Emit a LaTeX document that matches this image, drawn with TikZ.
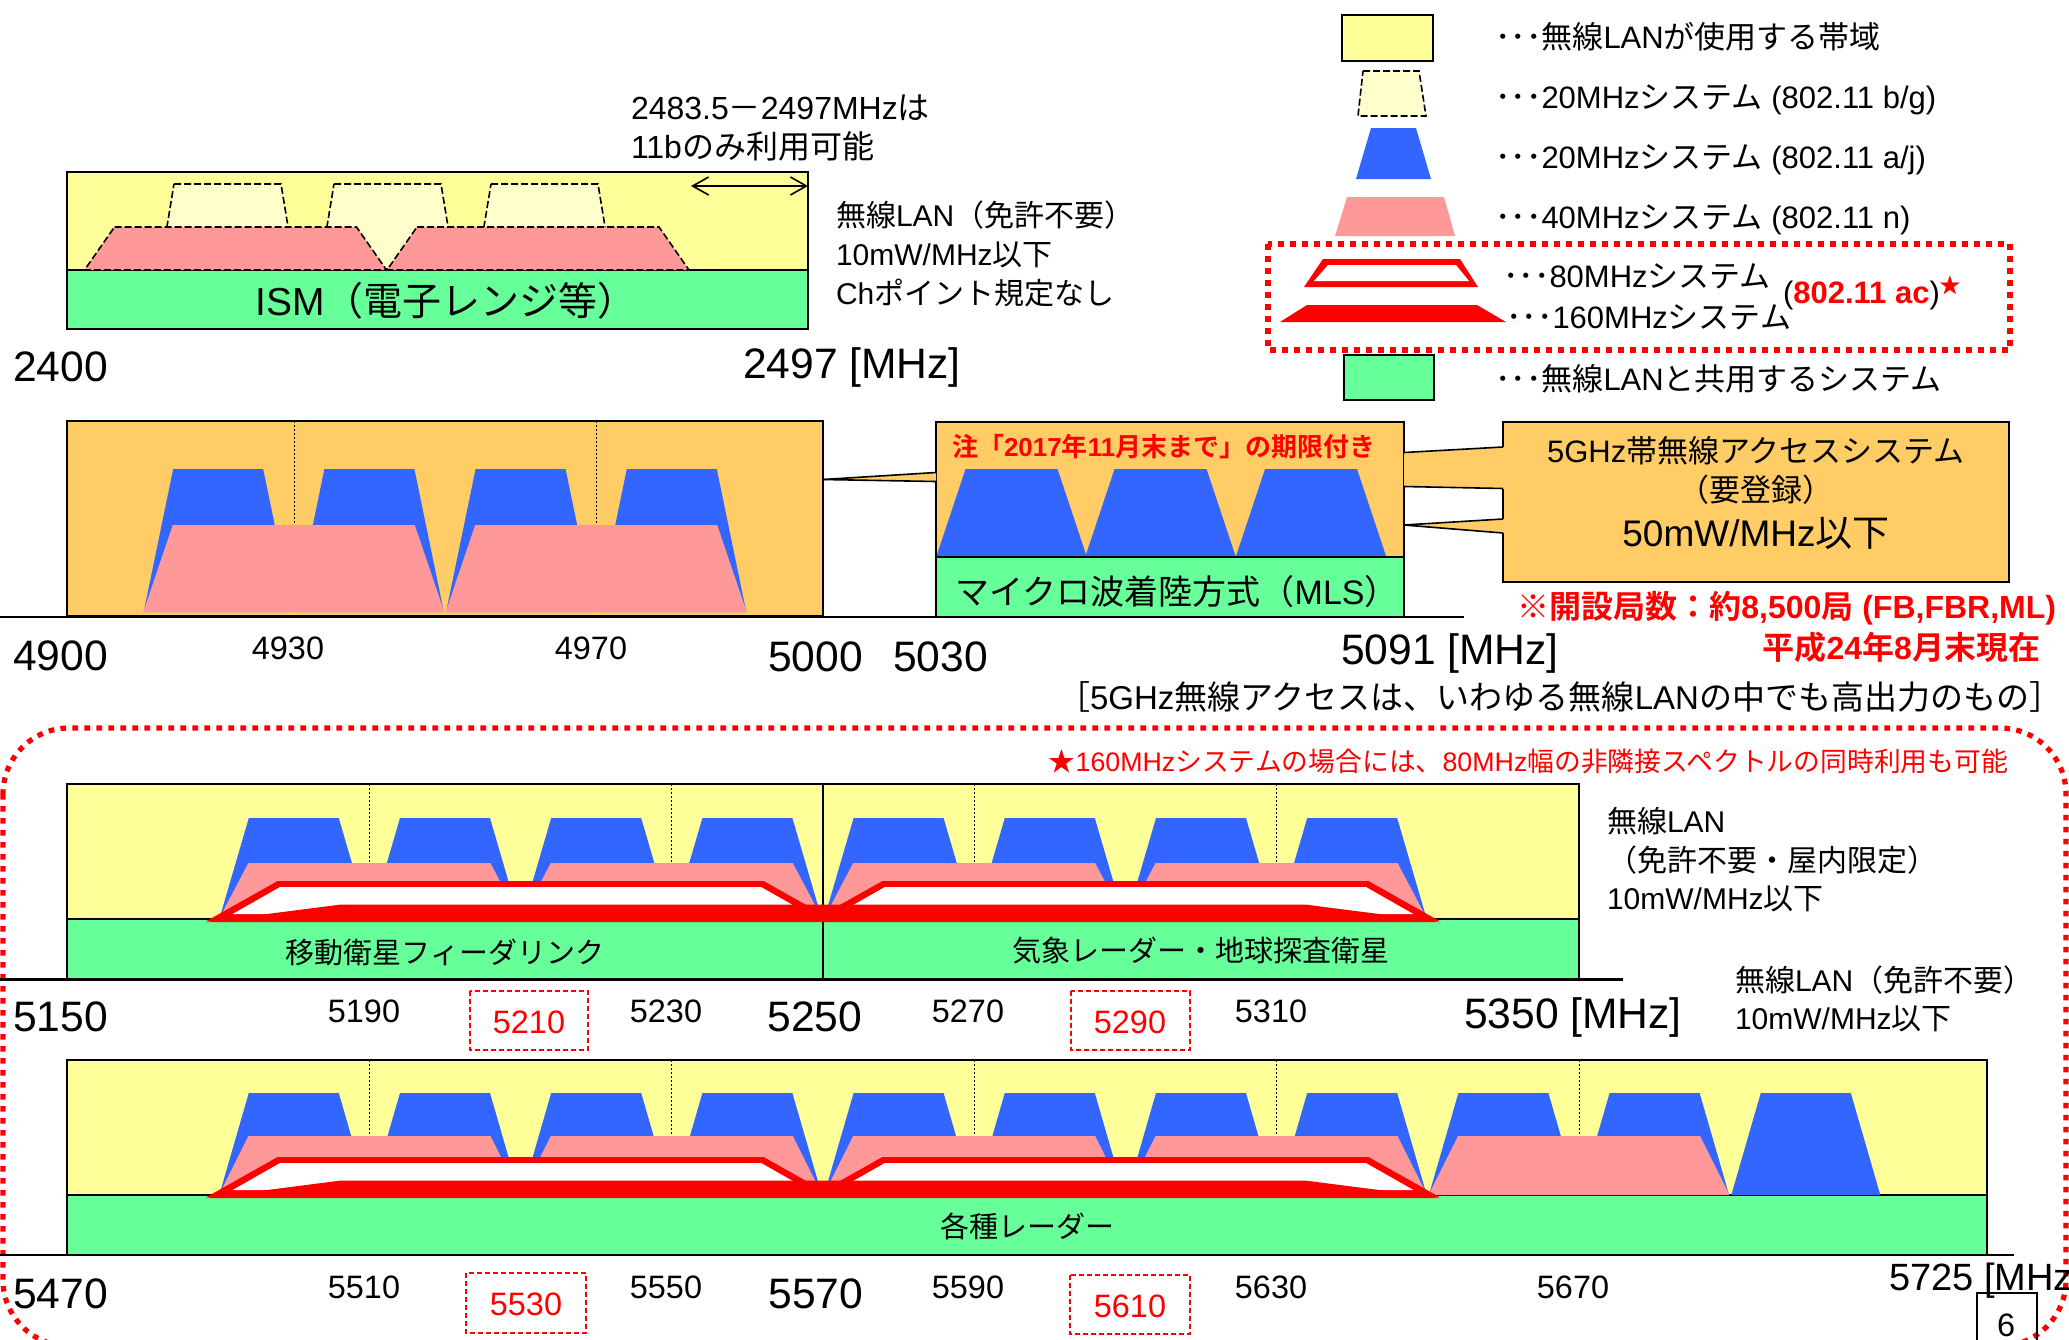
\documentclass[tikz,border=0pt]{standalone}
\usepackage{fontspec}
\setmainfont{Liberation Sans}
\newfontfamily\cjkfont{Noto Sans CJK JP}[BoldFont={Noto Sans CJK JP Bold}]
\usetikzlibrary{arrows.meta}
\chardef\cjkcls=7
\makeatletter
\newcommand\setcjkrange[2]{\count@=#1\relax
  \loop\XeTeXcharclass\count@=\cjkcls\relax
  \ifnum\count@<#2\relax\advance\count@ by 1\relax\repeat}
\makeatother
\setcjkrange{"3000}{"30FF}
\setcjkrange{"4E00}{"9FFF}
\setcjkrange{"FF00}{"FFEF}
\XeTeXcharclass"203B=\cjkcls
\XeTeXcharclass"2605=\cjkcls
\XeTeXinterchartoks 0 \cjkcls = {\begingroup\cjkfont}
\XeTeXinterchartoks 4095 \cjkcls = {\begingroup\cjkfont}
\XeTeXinterchartoks \cjkcls 0 = {\endgroup}
\XeTeXinterchartoks \cjkcls 4095 = {\endgroup}
\definecolor{wyel}{HTML}{FFFF99}
\definecolor{wgrn}{HTML}{66FF99}
\definecolor{wblu}{HTML}{3366FF}
\definecolor{wpnk}{HTML}{FF9999}
\definecolor{worg}{HTML}{FFCC66}
\definecolor{wlye}{HTML}{FFFFCC}
% trapezoid: [style]{cx}{ytop}{halftop}{ybot}{halfbot}
\newcommand\trapz[6][]{\path[#1] ({#2-#4},#3) -- ({#2+#4},#3) -- ({#2+#6},#5) -- ({#2-#6},#5) -- cycle;}
% 80 MHz hollow shape {cx}{G}
\newcommand\eightyshape[2]{%
  \fill[red] ({#1-314},{#2+2}) -- ({#1-243},{#2-38}) -- ({#1+243},{#2-38}) -- ({#1+314},{#2+2}) -- cycle;
  \fill[white] ({#1-288},{#2-5}) -- ({#1-240.5},{#2-32}) -- ({#1+240.5},{#2-32}) -- ({#1+288},{#2-5}) -- cycle;}
% 160 MHz solid shape {cx}{G}
\newcommand\onesixtyshape[2]{%
  \fill[red] ({#1-618},{#2+3}) -- ({#1-482},{#2-14.5}) -- ({#1+482},{#2-14.5}) -- ({#1+618},{#2+3}) -- cycle;}
\begin{document}
\XeTeXinterchartokenstate=1
\begin{tikzpicture}[x=0.5pt,y=-0.5pt,
  every node/.style={inner sep=0pt,outer sep=0pt},
  bord/.style={draw=black,line width=1pt},
  thinln/.style={draw=black,line width=0.8pt},
  axisln/.style={draw=black,line width=1.2pt},
  dotv/.style={draw=black,line width=0.5pt,dash pattern=on 0.8pt off 1.2pt},
  dsh/.style={draw=black,line width=0.8pt,dash pattern=on 3.5pt off 1.5pt},
  redbox/.style={draw=red,line width=0.7pt,dash pattern=on 2.5pt off 1.5pt},
  reddot/.style={draw=red,line width=2.6pt,dash pattern=on 2.8pt off 3.2pt},
  big/.style={font=\fontsize{21.3}{25}\selectfont},
  sml/.style={font=\fontsize{16.2}{19}\selectfont},
  txt/.style={font=\fontsize{15.5}{19}\selectfont},
  side/.style={font=\fontsize{15}{18}\selectfont},
  grnlbl/.style={font=\fontsize{14.5}{18}\selectfont},
  barb/.style={{Straight Barb[length=8pt,width=9pt]}-{Straight Barb[length=8pt,width=9pt]}}
]
\useasboundingbox (0,0) rectangle (2069,1340);
\fill[white] (0,0) rectangle (2069,1340);

%================ Legend ================
\fill[wyel] (1342,15) rectangle (1433,61); \draw[bord] (1342,15) rectangle (1433,61);
\path[fill=wlye,dsh] (1363,71) -- (1419,71) -- (1426,116) -- (1358,116) -- cycle;
\fill[wblu] (1371,128) -- (1416,128) -- (1431,179) -- (1356,179) -- cycle;
\fill[wpnk] (1347,197) -- (1444,197) -- (1455,236) -- (1335,236) -- cycle;
\fill[red] (1323,259) -- (1460,259) -- (1478,287) -- (1304,287) -- cycle;
\fill[white] (1328,265) -- (1456,265) -- (1469,281) -- (1314,281) -- cycle;
\fill[red] (1307,305) -- (1477,305) -- (1506,322) -- (1280,322) -- cycle;
\draw[reddot] (1268,244) rectangle (2010,350);
\fill[wgrn] (1344,355) rectangle (1434,400); \draw[bord] (1344,355) rectangle (1434,400);
\node[txt,anchor=west] (lg1) at (1495,37) {･･･無線LANが使用する帯域};
\node[txt,anchor=west] (lg2) at (1495,100) {･･･20MHzシステム (802.11 b/g)};
\node[txt,anchor=west] (lg3) at (1495,160) {･･･20MHzシステム (802.11 a/j)};
\node[txt,anchor=west] (lg4) at (1495,220) {･･･40MHzシステム (802.11 n)};
\node[txt,anchor=west] (lg5) at (1503,276) {･･･80MHzシステム};
\node[txt,anchor=west] (lg6) at (1506,317) {･･･160MHzシステム};
\node[txt,anchor=west] (lg7) at (1783,293) {(\textcolor{red}{\bfseries 802.11 ac})\textsuperscript{\textcolor{red}{★}}};
\node[txt,anchor=west] (lg8) at (1495,379) {･･･無線LANと共用するシステム};

%================ 2.4 GHz ================
\fill[wyel] (67,172) rectangle (808,270);
\fill[wgrn] (67,270) rectangle (808,329);
\draw[bord] (67,270) -- (808,270);
\foreach \cx in {227.5,387.5,544.5} {\trapz[fill=wlye,dsh]{\cx}{184}{53.5}{269}{67.5}}
\foreach \cx in {235.5,538} {\trapz[fill=wpnk,dsh]{\cx}{227}{121}{270}{151}}
\draw[bord] (67,172) rectangle (808,329);
\coordinate (arrL) at (691,186);
\coordinate (arrR) at (808,186);
\draw[line width=0.8pt,barb] (arrL) -- (arrR);
\node[font=\fontsize{16}{19}\selectfont,anchor=west] (t1a) at (631,108) {2483.5－2497MHzは};
\node[font=\fontsize{16}{19}\selectfont,anchor=west] (t1b) at (631,146) {11bのみ利用可能};
\node[side,anchor=west] (t1c) at (836,215) {無線LAN（免許不要）};
\node[side,anchor=west] (t1d) at (836,255) {10mW/MHz以下};
\node[side,anchor=west] (t1e) at (836,293) {Chポイント規定なし};
\node[font=\fontsize{19.5}{23}\selectfont] (ism) at (446,301) {ISM（電子レンジ等）};
\node[big,anchor=west] (a2400) at (13,367) {2400};
\node[big,anchor=west] (a2497) at (743,367) {2497 [MHz]};

%================ 4.9 GHz ================
\fill[worg] (67,421) rectangle (823,616);
\foreach \xx in {294,596} {\draw[dotv] (\xx,421) -- (\xx,560);}
\foreach \cx in {218.2,369.4,520.6,671.8} {\trapz[fill=wblu]{\cx}{469}{45}{612}{74.5}}
\foreach \cx in {293.8,596.2} {\trapz[fill=wpnk]{\cx}{525}{121}{612}{150.5}}
\draw[bord] (67,421) rectangle (823,616);

% MLS box
\fill[worg] (936,422) rectangle (1404,557);
\fill[wgrn] (936,557) rectangle (1404,617);
\foreach \cx in {1011.5,1160.5,1311} {\trapz[fill=wblu]{\cx}{469}{46}{556}{75}}
\draw[bord] (936,557) -- (1404,557);
\draw[bord] (936,422) rectangle (1404,617);
\node[font=\bfseries\fontsize{13}{15}\selectfont,text=red,anchor=west] (note) at (952,447) {注「2017年11月末まで」の期限付き};
\node[font=\fontsize{17}{20}\selectfont] (mls) at (1177,592) {マイクロ波着陸方式（MLS）};

% wedge 4.9 box -> MLS
\coordinate (wa) at (823,479.5);
\coordinate (wb) at (936,472.5);
\coordinate (wc) at (936,481.5);
\fill[worg] (wa) -- (wb) -- (wc) -- cycle;
\draw[thinln] (wa) -- (wb);
\draw[thinln] (wa) -- (wc);

% callout box
\fill[worg] (1503,422) rectangle (2009,582);
\coordinate (ca) at (1404,452.5);
\coordinate (cb) at (1503,447);
\coordinate (cc) at (1503,488.5);
\coordinate (cd) at (1404,486.5);
\coordinate (ce) at (1404,525);
\coordinate (cf) at (1503,519);
\coordinate (cg) at (1503,533);
\fill[worg] (ca) -- (cb) -- (cc) -- (cd) -- cycle;
\fill[worg] (ce) -- (cf) -- (cg) -- cycle;
\draw[bord] (cb) -- (1503,422) -- (2009,422) -- (2009,582) -- (1503,582) -- (cg);
\draw[bord] (cf) -- (cc);
\draw[thinln] (ca) -- (cb);
\draw[thinln] (cd) -- (cc);
\draw[thinln] (ce) -- (cf);
\draw[thinln] (ce) -- (cg);
\node[txt] (acc1) at (1756,451) {5GHz帯無線アクセスシステム};
\node[txt] (acc2) at (1756,490) {（要登録）};
\node[font=\fontsize{18.5}{22}\selectfont] (acc3) at (1756,533) {50mW/MHz以下};

\draw[axisln] (0,617) -- (1464,617);
\node[big,anchor=west] (a4900) at (13,656) {4900};
\node[sml] (a4930) at (288,648) {4930};
\node[sml] (a4970) at (591,648) {4970};
\node[big,anchor=west] (a5000) at (768,657) {5000};
\node[big,anchor=west] (a5030) at (893,657) {5030};
\node[big,anchor=west] (a5091) at (1341,653) {5091 [MHz]};
\node[font=\bfseries\fontsize{16}{19}\selectfont,text=red,anchor=east] (kai) at (2056,608) {※開設局数：約8,500局 (FB,FBR,ML)};
\node[font=\bfseries\fontsize{16}{19}\selectfont,text=red,anchor=east] (hei) at (2040,647) {平成24年8月末現在};
\node[font=\fontsize{16.5}{19}\selectfont,anchor=east] (kak) at (2062,697) {［5GHz無線アクセスは、いわゆる無線LANの中でも高出力のもの］};

%================ big dotted frame ================
\draw[reddot,rounded corners=33pt] (3,728) rectangle (2066,1346);
\node[font=\fontsize{13.4}{16}\selectfont,text=red,anchor=east] (star) at (2008,761) {★160MHzシステムの場合には、80MHz幅の非隣接スペクトルの同時利用も可能};

%================ 5.2/5.3 GHz ================
\fill[wyel] (67,784) rectangle (1579,919);
\fill[wgrn] (67,919) rectangle (1579,979);
\draw[bord] (67,919) -- (1579,919);
\foreach \ff in {5190,5230,5270,5310} {\draw[dotv] ({67+(\ff-5150)*7.56},784) -- ++(0,100);}
\draw[thinln] (823,784) -- (823,979);
\foreach \k in {0,...,7} {\trapz[fill=wblu]{293.8+151.2*\k}{818}{45}{919}{74.5}}
\foreach \k in {0,...,3} {\trapz[fill=wpnk]{369.4+302.4*\k}{863}{121}{919}{150.5}}
\eightyshape{520.6}{919}
\eightyshape{1125.4}{919}
\onesixtyshape{823}{919}
\draw[bord] (67,784) rectangle (1579,979);
\node[grnlbl] (mss) at (445,952) {移動衛星フィーダリンク};
\node[grnlbl] (met) at (1201,950) {気象レーダー・地球探査衛星};
\draw[axisln] (0,979.5) -- (1623,979.5);
\node[side,anchor=west] (r1) at (1607,821) {無線LAN};
\node[side,anchor=west] (r2) at (1607,860) {（免許不要・屋内限定）};
\node[side,anchor=west] (r3) at (1607,899) {10mW/MHz以下};
\node[side,anchor=west] (r4) at (1735,980) {無線LAN（免許不要）};
\node[side,anchor=west] (r5) at (1735,1019) {10mW/MHz以下};
\node[big,anchor=west] (a5150) at (13,1017) {5150};
\node[sml] (a5190) at (364,1011) {5190};
\node[sml] (a5230) at (666,1011) {5230};
\node[big] (a5250) at (815,1017) {5250};
\node[sml] (a5270) at (968,1011) {5270};
\node[sml] (a5310) at (1271,1011) {5310};
\node[big,anchor=west] (a5350) at (1464,1017) {5350 [MHz]};
\draw[redbox] (470,991) rectangle (588,1050);
\node[sml,text=red] (a5210) at (529,1022) {5210};
\draw[redbox] (1071,991) rectangle (1190,1050);
\node[sml,text=red] (a5290) at (1130,1022) {5290};

%================ 5.47 GHz ================
\fill[wyel] (67,1060) rectangle (1987,1195);
\fill[wgrn] (67,1195) rectangle (1987,1255);
\draw[bord] (67,1195) -- (1987,1195);
\foreach \ff in {5510,5550,5590,5630,5670} {\draw[dotv] ({67+(\ff-5470)*7.56},1060) -- ++(0,100);}
\foreach \k in {0,...,10} {\trapz[fill=wblu]{293.8+151.2*\k}{1093}{45}{1195}{74.5}}
\foreach \k in {0,...,4} {\trapz[fill=wpnk]{369.4+302.4*\k}{1136}{121}{1195}{150.5}}
\eightyshape{520.6}{1195}
\eightyshape{1125.4}{1195}
\onesixtyshape{823}{1195}
\draw[bord] (67,1060) rectangle (1987,1255);
\node[grnlbl] (rad) at (1027,1226) {各種レーダー};
\draw[axisln] (0,1255) -- (2014,1255);
\node[big,anchor=west] (a5470) at (13,1294) {5470};
\node[sml] (a5510) at (364,1287) {5510};
\node[sml] (a5550) at (666,1287) {5550};
\node[big] (a5570) at (816,1294) {5570};
\node[sml] (a5590) at (968,1287) {5590};
\node[sml] (a5630) at (1271,1287) {5630};
\node[sml] (a5670) at (1573,1287) {5670};
\node[font=\fontsize{19}{23}\selectfont,anchor=west] (a5725) at (1889,1281) {5725 [MHz]};
\draw[redbox] (466,1273) rectangle (586,1333);
\node[sml,text=red] (a5530) at (526,1304) {5530};
\draw[redbox] (1070,1275) rectangle (1190,1334);
\node[sml,text=red] (a5610) at (1130,1306) {5610};
\draw[line width=0.6pt] (1977,1360) -- (1977,1293) -- (2037,1293) -- (2037,1360);
\node[sml] (pg) at (2006,1325) {6};
\end{tikzpicture}
\end{document}
